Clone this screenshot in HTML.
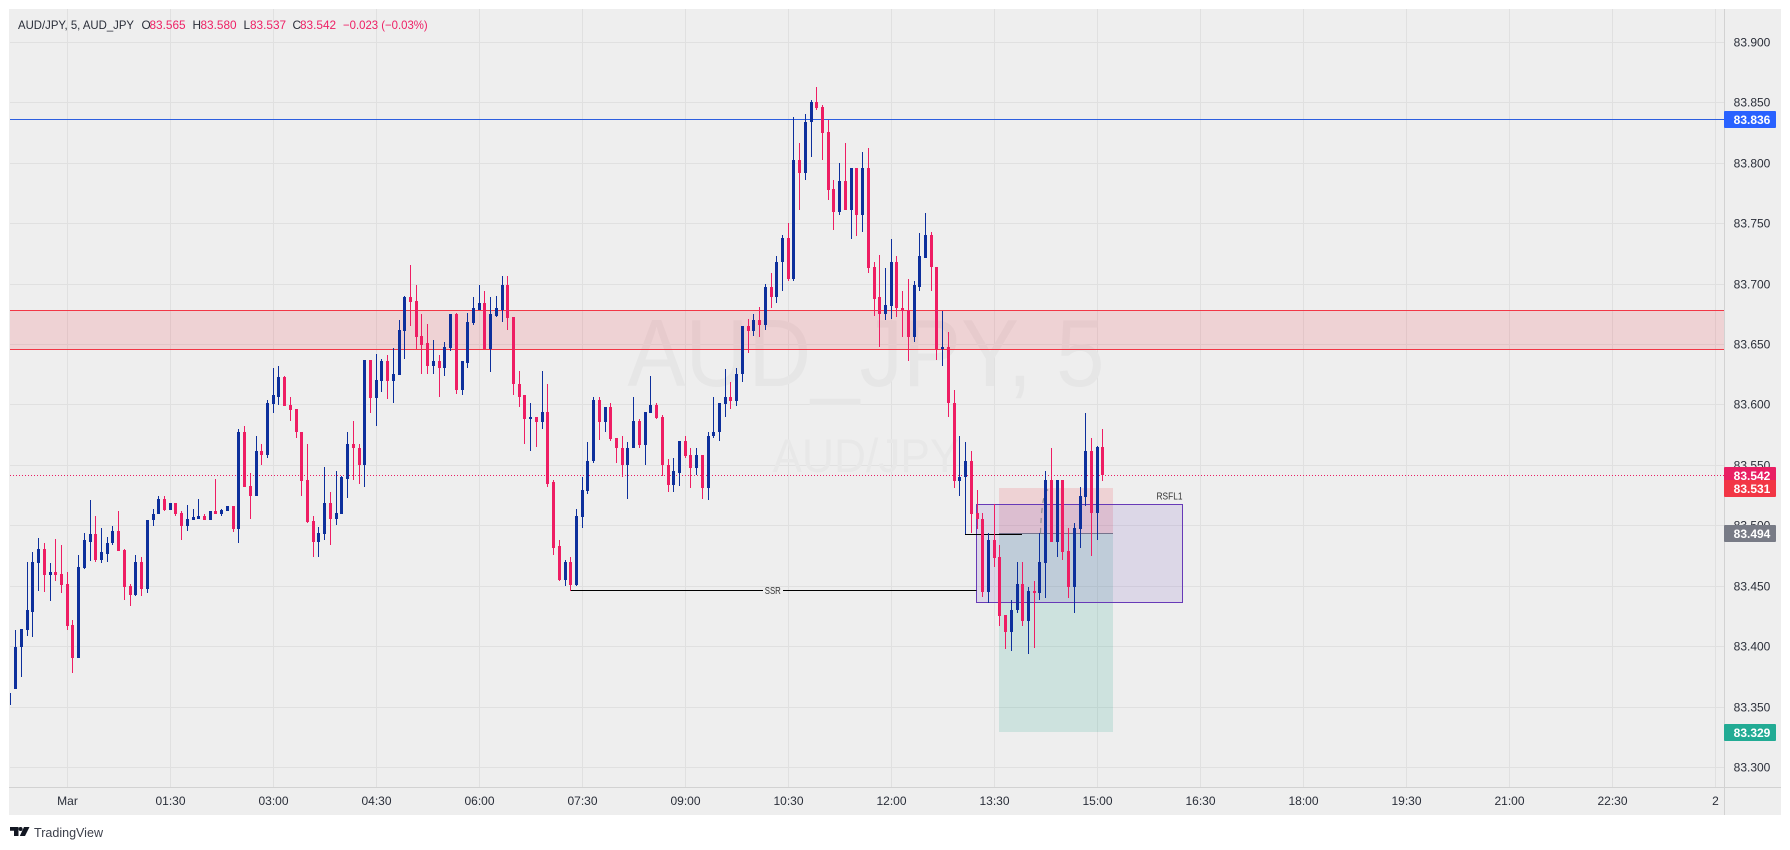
<!DOCTYPE html>
<html lang="en">
<head>
<meta charset="utf-8">
<title>AUD/JPY 5m chart</title>
<style>
html,body{margin:0;padding:0;background:#fff;width:1790px;height:850px;overflow:hidden}
svg{display:block;font-family:"Liberation Sans",sans-serif}
</style>
</head>
<body>
<svg id="chart" width="1790" height="850" viewBox="0 0 1790 850" xmlns="http://www.w3.org/2000/svg">
  <defs>
    <clipPath id="plot-clip"><rect x="10" y="9" width="1714" height="778"/></clipPath>
  </defs>
  <rect x="9" y="9" width="1772" height="806" fill="#eeeeee"/>
  <g id="grid" shape-rendering="crispEdges"></g>
  <g text-anchor="middle">
    <text x="866" y="386" font-size="96" textLength="477" lengthAdjust="spacingAndGlyphs" fill="#e6e6e6">AUD_JPY, 5</text>
    <text x="866" y="472" font-size="47" textLength="187" lengthAdjust="spacingAndGlyphs" fill="#e8e8e8">AUD/JPY</text>
  </g>
  <g id="drawings" clip-path="url(#plot-clip)"></g>
  <g id="candles" clip-path="url(#plot-clip)" shape-rendering="crispEdges"></g>
  <rect x="1724" y="9" width="1" height="806" fill="#d2d2d2"/>
  <rect x="9" y="787" width="1772" height="1" fill="#d2d2d2"/>
  <g id="price-axis"></g>
  <g id="time-axis"></g>
  <g id="price-tags"></g>
  <g font-size="11.8" fill="#2a2e39">
    <text x="18" y="29" textLength="116" lengthAdjust="spacingAndGlyphs">AUD/JPY, 5, AUD_JPY</text>
    <text x="141.5" y="29">O</text>
    <text x="149.5" y="29" fill="#ee2065">83.565</text>
    <text x="192.5" y="29">H</text>
    <text x="200.5" y="29" fill="#ee2065">83.580</text>
    <text x="243.5" y="29">L</text>
    <text x="250" y="29" fill="#ee2065">83.537</text>
    <text x="292.5" y="29">C</text>
    <text x="300" y="29" fill="#ee2065">83.542</text>
    <text x="343" y="29" fill="#ee2065" textLength="84.7" lengthAdjust="spacingAndGlyphs">−0.023 (−0.03%)</text>
  </g>
  <g>
    <polygon points="10,827 18.5,827 18.5,836 14,836 14,830.8 10,830.8" fill="#131722"/>
    <circle cx="20.6" cy="829" r="2" fill="#131722"/>
    <polygon points="24,827 29.5,827 25,836 19.8,836" fill="#131722"/>
    <text x="34" y="837" font-size="13" textLength="69" lengthAdjust="spacingAndGlyphs" fill="#3c3f4a">TradingView</text>
  </g>
</svg>
<script>
// Chart data
var firstBarIndex = -10;
var opens = [
83.352,83.365,83.400,83.414,83.429,83.469,83.481,83.459,83.462,83.460,
83.452,83.418,83.391,83.465,83.487,83.493,83.472,83.477,83.486,83.496,
83.480,83.450,83.443,83.470,83.448,83.505,83.510,83.522,83.513,83.519,
83.511,83.500,83.505,83.506,83.508,83.505,83.512,83.510,83.512,83.516,
83.497,83.578,83.533,83.525,83.562,83.559,83.601,83.607,83.623,83.600,
83.597,83.578,83.538,83.504,83.487,83.493,83.519,83.506,83.510,83.539,
83.568,83.564,83.550,83.637,83.606,83.620,83.636,83.620,83.625,83.661,
83.689,83.686,83.657,83.651,83.632,83.636,83.631,83.647,83.675,83.612,
83.635,83.668,83.679,83.684,83.646,83.674,83.679,83.699,83.673,83.617,
83.608,83.588,83.590,83.586,83.594,83.536,83.483,83.455,83.470,83.451,
83.507,83.529,83.554,83.604,83.586,83.598,83.573,83.564,83.550,83.564,
83.587,83.567,83.593,83.600,83.590,83.550,83.534,83.544,83.570,83.559,
83.548,83.559,83.531,83.574,83.578,83.601,83.607,83.603,83.626,83.665,
83.661,83.670,83.666,83.698,83.689,83.718,83.738,83.704,83.803,83.792,
83.834,83.851,83.847,83.826,83.779,83.760,83.785,83.761,83.796,83.757,
83.796,83.714,83.689,83.675,83.682,83.718,83.680,83.679,83.656,83.698,
83.722,83.741,83.714,83.646,83.648,83.602,83.537,83.540,83.554,83.511,
83.506,83.445,83.488,83.474,83.426,83.412,83.430,83.452,83.421,83.446,
83.444,83.469,83.538,83.487,83.538,83.479,83.449,83.497,83.524,83.562,
83.511,83.565
];
var highs = [
83.365,83.414,83.415,83.470,83.478,83.490,83.486,83.469,83.489,83.484,
83.462,83.422,83.476,83.494,83.521,83.508,83.498,83.491,83.500,83.512,
83.481,83.452,83.476,83.474,83.505,83.514,83.525,83.525,83.519,83.519,
83.512,83.517,83.514,83.522,83.510,83.512,83.539,83.514,83.516,83.516,
83.580,83.583,83.544,83.574,83.568,83.604,83.631,83.632,83.624,83.607,
83.597,83.578,83.568,83.508,83.499,83.549,83.528,83.545,83.541,83.578,
83.587,83.568,83.637,83.637,83.642,83.638,83.641,83.647,83.670,83.690,
83.716,83.699,83.675,83.667,83.654,83.641,83.652,83.675,83.676,83.636,
83.676,83.689,83.699,83.694,83.689,83.690,83.707,83.707,83.673,83.628,
83.608,83.602,83.590,83.628,83.617,83.538,83.488,83.472,83.474,83.514,
83.540,83.569,83.607,83.607,83.598,83.602,83.573,83.574,83.569,83.607,
83.588,83.594,83.624,83.602,83.592,83.555,83.556,83.570,83.574,83.564,
83.564,83.559,83.578,83.607,83.602,83.630,83.619,83.631,83.665,83.671,
83.675,83.681,83.700,83.709,83.723,83.741,83.751,83.838,83.817,83.841,
83.852,83.863,83.848,83.836,83.786,83.800,83.817,83.796,83.796,83.809,
83.813,83.718,83.724,83.713,83.737,83.723,83.694,83.704,83.703,83.742,
83.759,83.743,83.714,83.678,83.660,83.612,83.574,83.569,83.562,83.530,
83.511,83.494,83.518,83.484,83.426,83.439,83.470,83.470,83.449,83.454,
83.494,83.545,83.564,83.538,83.538,83.498,83.502,83.532,83.593,83.573,
83.566,83.580
];
var lows = [
83.352,83.365,83.375,83.409,83.408,83.446,83.445,83.438,83.454,83.444,
83.414,83.378,83.391,83.464,83.471,83.470,83.469,83.470,83.484,83.479,
83.439,83.434,83.442,83.442,83.444,83.500,83.510,83.512,83.513,83.508,
83.488,83.496,83.505,83.506,83.505,83.505,83.510,83.508,83.512,83.495,
83.486,83.532,83.506,83.525,83.550,83.556,83.593,83.600,83.599,83.587,
83.573,83.525,83.502,83.474,83.474,83.488,83.484,83.501,83.510,83.523,
83.538,83.535,83.532,83.593,83.583,83.611,83.605,83.602,83.625,83.638,
83.665,83.646,83.626,83.626,83.626,83.607,83.624,83.645,83.609,83.608,
83.631,83.666,83.679,83.646,83.627,83.673,83.669,83.662,83.608,83.598,
83.568,83.562,83.565,83.580,83.532,83.476,83.454,83.450,83.446,83.450,
83.498,83.526,83.552,83.571,83.578,83.570,83.552,83.540,83.522,83.564,
83.564,83.550,83.593,83.588,83.541,83.528,83.528,83.533,83.556,83.531,
83.542,83.522,83.521,83.573,83.570,83.590,83.597,83.599,83.619,83.643,
83.657,83.656,83.662,83.680,83.684,83.694,83.703,83.703,83.761,83.786,
83.805,83.844,83.803,83.770,83.745,83.757,83.761,83.737,83.740,83.743,
83.709,83.674,83.648,83.670,83.671,83.673,83.656,83.636,83.652,83.694,
83.722,83.694,83.637,83.632,83.590,83.531,83.525,83.493,83.494,83.497,
83.441,83.436,83.466,83.417,83.398,83.396,83.428,83.417,83.394,83.399,
83.439,83.440,83.487,83.474,83.472,83.440,83.428,83.482,83.516,83.475,
83.488,83.537
];
var closes = [
83.362,83.400,83.415,83.430,83.470,83.481,83.459,83.462,83.459,83.451,
83.417,83.391,83.466,83.488,83.493,83.472,83.478,83.486,83.496,83.479,
83.449,83.443,83.470,83.448,83.505,83.510,83.522,83.513,83.519,83.510,
83.500,83.506,83.507,83.508,83.505,83.512,83.510,83.513,83.516,83.497,
83.578,83.532,83.525,83.562,83.559,83.602,83.608,83.623,83.599,83.596,
83.578,83.537,83.503,83.487,83.494,83.519,83.506,83.511,83.540,83.568,
83.564,83.550,83.637,83.606,83.621,83.636,83.620,83.626,83.662,83.689,
83.685,83.656,83.650,83.632,83.636,83.631,83.648,83.675,83.612,83.636,
83.669,83.680,83.684,83.646,83.675,83.680,83.699,83.672,83.617,83.607,
83.588,83.590,83.586,83.594,83.535,83.482,83.455,83.470,83.451,83.508,
83.530,83.554,83.604,83.586,83.598,83.572,83.564,83.550,83.564,83.587,
83.567,83.594,83.600,83.589,83.550,83.534,83.545,83.570,83.558,83.548,
83.559,83.531,83.574,83.578,83.602,83.607,83.603,83.626,83.665,83.661,
83.670,83.666,83.698,83.689,83.718,83.738,83.704,83.803,83.792,83.834,
83.851,83.846,83.825,83.778,83.760,83.785,83.761,83.796,83.757,83.796,
83.713,83.688,83.675,83.683,83.718,83.680,83.678,83.656,83.699,83.723,
83.741,83.714,83.646,83.648,83.602,83.537,83.540,83.554,83.510,83.506,
83.445,83.488,83.473,83.425,83.412,83.430,83.452,83.421,83.446,83.444,
83.470,83.538,83.487,83.538,83.478,83.449,83.498,83.525,83.562,83.511,
83.565,83.542
];
var priceTicks = ["83.900","83.850","83.800","83.750","83.700","83.650","83.600","83.550","83.500","83.450","83.400","83.350","83.300"];
var timeLabels = ["Mar","01:30","03:00","04:30","06:00","07:30","09:00","10:30","12:00","13:30","15:00","16:30","18:00","19:30","21:00","22:30","2"];
var barsPerTimeTick = [18];
var resistanceLevel = [83.836];
var supplyZone = [83.678, 83.646];
var lastPrice = [83.542];
var ssrLevel = [83.4465];
var ssrBars = [88];
var sweepLevel = [83.493];
var sweepBars = [157, 167];
var positionLevels = [83.531, 83.494, 83.329];
var positionBars = [162.85, 182.9];
var rsflLevels = [83.518, 83.4365];
var rsflBars = [158.9, 194.9];
var tagPrices = ["83.836","83.542","83.531","83.494","83.329"];
var tagColors = ["#2962ff","#e91e63","#f23645","#787b86","#22ab94"];

// Axis functions
function xScale(i){ return 67.2 + 5.7222 * i; }
function yScale(p){ return 42.5 + (83.9 - p) * 1208.3; }

var NS = "http://www.w3.org/2000/svg";
function mk(tag, attrs, parent){
  var el = document.createElementNS(NS, tag);
  for (var k in attrs) el.setAttribute(k, attrs[k]);
  parent.appendChild(el);
  return el;
}
var gridG = document.getElementById("grid");
var drawG = document.getElementById("drawings");
var candleG = document.getElementById("candles");
var priceAxisG = document.getElementById("price-axis");
var timeAxisG = document.getElementById("time-axis");
var tagG = document.getElementById("price-tags");

// Grid and axis labels
priceTicks.forEach(function(t){
  var y = Math.floor(yScale(parseFloat(t)));
  var line = mk("rect", {x:10, y:y, width:1714, height:1, fill:"#e0e0e0"}, gridG);
  
  
  var label = mk("text", {x:1752, y:y + 4.5, "text-anchor":"middle", "font-size":"12", fill:"#2a2e39"}, priceAxisG);
  label.textContent = t;
  
  
});
timeLabels.forEach(function(t, k){
  var x = Math.floor(xScale(k * barsPerTimeTick[0]));
  var line = mk("rect", {x:x, y:9, width:1, height:778, fill:"#e0e0e0"}, gridG);
  
  
  var label = mk("text", {x:x + 0.5, y:805, "text-anchor":"middle", "font-size":"12", fill:"#2a2e39"}, timeAxisG);
  label.textContent = t;
  
  
});

// Drawings
function hLine(price, x1, x2, color, name){
  var y = Math.floor(yScale(price));
  var r = mk("rect", {x:x1, y:y, width:x2 - x1, height:1, fill:color, "shape-rendering":"crispEdges"}, drawG);
  
  
  return r;
}
var zoneTop = Math.floor(yScale(supplyZone[0]));
var zoneBottom = Math.floor(yScale(supplyZone[1]));
var zoneRect = mk("rect", {x:10, y:zoneTop, width:1714, height:zoneBottom - zoneTop, fill:"#f23645", "fill-opacity":"0.15", "shape-rendering":"crispEdges"}, drawG);


hLine(supplyZone[0], 10, 1724, "#f23645", "supply-zone-top-line");
hLine(supplyZone[1], 10, 1724, "#f23645", "supply-zone-bottom-line");
hLine(resistanceLevel[0], 10, 1724, "#2d5fe0", "resistance-line");

var lastLine = mk("line", {x1:10, x2:1724, y1:Math.floor(yScale(lastPrice[0])) + 0.5, y2:Math.floor(yScale(lastPrice[0])) + 0.5, stroke:"#e91e63", "stroke-width":"1", "stroke-dasharray":"1 2"}, drawG);



// Long/short position tool
var posLeft = Math.floor(xScale(positionBars[0]));
var posRight = Math.floor(xScale(positionBars[1]));
var posEntry = Math.floor(yScale(positionLevels[1]));
var posStop = Math.floor(yScale(positionLevels[0]));
var posTarget = Math.floor(yScale(positionLevels[2]));
var stopRect = mk("rect", {x:posLeft, y:posStop, width:posRight - posLeft, height:posEntry - posStop, fill:"#f23645", "fill-opacity":"0.15"}, drawG);


var targetRect = mk("rect", {x:posLeft, y:posEntry, width:posRight - posLeft, height:posTarget - posEntry, fill:"#089981", "fill-opacity":"0.14"}, drawG);


var entryLine = mk("rect", {x:posLeft, y:posEntry, width:posRight - posLeft, height:1, fill:"#787b86"}, drawG);



// RSFL1 box
var rsflLeft = Math.floor(xScale(rsflBars[0])) + 0.5;
var rsflRight = Math.floor(xScale(rsflBars[1])) + 0.5;
var rsflTop = Math.floor(yScale(rsflLevels[0])) + 0.5;
var rsflBottom = Math.floor(yScale(rsflLevels[1])) + 0.5;
var rsflRect = mk("rect", {x:rsflLeft, y:rsflTop, width:rsflRight - rsflLeft, height:rsflBottom - rsflTop, fill:"#673ab7", "fill-opacity":"0.13", stroke:"#673ab7", "stroke-width":"1"}, drawG);


var rsflText = mk("text", {x:rsflRight - 26, y:rsflTop - 5, "font-size":"10", textLength:"26", lengthAdjust:"spacingAndGlyphs", fill:"#333"}, drawG);
rsflText.textContent = "RSFL1";



// Dashed arc on the position tool
var arcPath = mk("path", {d:"M" + (xScale(170) + 0.5) + " " + yScale(83.494) + " Q" + (xScale(170) + 2) + " " + yScale(83.531) + " " + (xScale(171.6)) + " " + yScale(83.530), fill:"none", stroke:"#8f8f96", "stroke-width":"1.2", "stroke-dasharray":"5 5"}, drawG);



// SSR line with centred label
var ssrLeft = Math.floor(xScale(ssrBars[0]));
var ssrRight = rsflLeft;
var ssrMid = (ssrLeft + ssrRight) / 2 - 0.5;
hLine(ssrLevel[0], ssrLeft, ssrMid - 10, "#000000", "ssr-line-left");
hLine(ssrLevel[0], ssrMid + 10, ssrRight, "#000000", "ssr-line-right");
var ssrText = mk("text", {x:ssrMid - 8, y:Math.floor(yScale(ssrLevel[0])) + 4, "font-size":"10", textLength:"16", lengthAdjust:"spacingAndGlyphs", fill:"#333"}, drawG);
ssrText.textContent = "SSR";



// Sweep line
hLine(sweepLevel[0], Math.floor(xScale(sweepBars[0])), Math.floor(xScale(sweepBars[1])), "#000000", "sweep-line");

// Candles
opens.forEach(function(o, n){
  var i = firstBarIndex + n;
  var c = closes[n], h = highs[n], l = lows[n];
  var color = c >= o ? "#0d2f9c" : "#ee1d63";
  var x = Math.floor(xScale(i));
  var yh = Math.round(yScale(h)), yl = Math.round(yScale(l));
  var yt = Math.round(yScale(Math.max(o, c))), yb = Math.round(yScale(Math.min(o, c)));
  var g = mk("g", {}, candleG);
  
  
  var wick = mk("rect", {x:x, y:yh, width:1, height:Math.max(1, yl - yh), fill:color}, g);
  
  
  var body = mk("rect", {x:x - 1, y:yt, width:3, height:Math.max(1, yb - yt), fill:color}, g);
  
  
});

// Price tags
tagPrices.forEach(function(t, k){
  var y = yScale(parseFloat(t));
  var top = Math.round(y - 8.4);
  var box = mk("rect", {x:1724, y:top, width:52, height:17, rx:1, fill:tagColors[k]}, tagG);
  
  
  var label = mk("text", {x:1752, y:top + 13, "text-anchor":"middle", "font-size":"12", "font-weight":"bold", fill:"#ffffff"}, tagG);
  label.textContent = t;
  
  
});
</script>
</body>
</html>
